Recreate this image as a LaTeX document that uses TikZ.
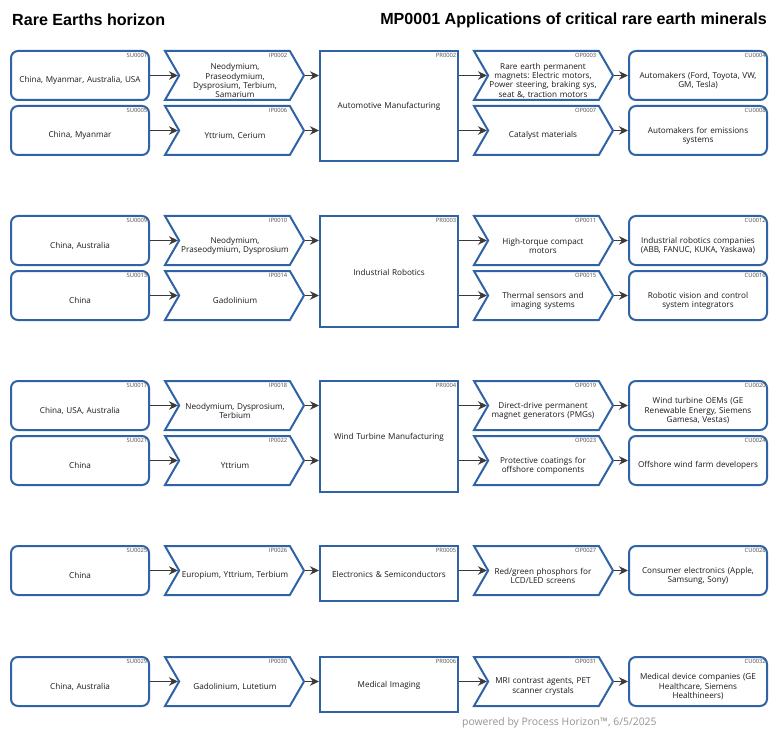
\documentclass[tikz,border=0pt]{standalone}
\usepackage{fontspec}
\setmainfont{Open Sans}
\newfontfamily\titlefont{Liberation Sans}
\usetikzlibrary{shapes.symbols,arrows.meta}
\definecolor{edgeblue}{HTML}{2F63A6}
\definecolor{flowgrey}{HTML}{3A3A3A}
\frenchspacing
\tikzset{
  x=1pt,y=-1pt,
  roundbox/.style={draw=edgeblue,line width=2pt,rounded corners=7pt,minimum width=138pt,minimum height=49pt,inner sep=0pt,fill=white},
  chev/.style={draw=edgeblue,line width=2pt,signal,signal from=west,signal to=east,signal pointer angle=120,minimum width=139pt,minimum height=49pt,inner sep=0pt,fill=white},
  procbox/.style={draw=edgeblue,line width=2pt,minimum width=138pt,inner sep=0pt,fill=white},
  itemtext/.style={font=\fontsize{8.15}{9.3}\selectfont,text=black!90,align=center,inner sep=0pt},
  codetext/.style={font=\fontsize{5.8}{6.5}\selectfont,text=black!70,anchor=north east,inner sep=0pt},
  flow/.style={draw=flowgrey,line width=1.6pt,-{Stealth[length=9pt,width=8.5pt]}},
  headtext/.style={font=\titlefont\bfseries\fontsize{16.1}{18}\selectfont,inner sep=0pt},
}
% #1 name, #2 top y, #3 code, #4 text
\newcommand{\supplybox}[4]{%
  \node[roundbox] (#1) at (80,#2+24.5) {};
  \node[itemtext,text width=132pt] (#1t) at (80,#2+29.7) {#4};
  \node[codetext] (#1c) at (147.5,#2+2.5) {#3};}
\newcommand{\inputbox}[4]{%
  \node[chev] (#1) at (234.5,#2+24.5) {};
  \node[itemtext,text width=125pt] (#1t) at (235,#2+29.7) {#4};
  \node[codetext] (#1c) at (287.5,#2+2.5) {#3};}
\newcommand{\outputbox}[4]{%
  \node[chev] (#1) at (543.5,#2+24.5) {};
  \node[itemtext,text width=125pt] (#1t) at (543,#2+29.7) {#4};
  \node[codetext] (#1c) at (596.5,#2+2.5) {#3};}
\newcommand{\custbox}[4]{%
  \node[roundbox] (#1) at (698,#2+24.5) {};
  \node[itemtext,text width=132pt] (#1t) at (698,#2+29.7) {#4};
  \node[codetext] (#1c) at (766,#2+2.5) {#3};}
% #1 name, #2 top, #3 height, #4 code, #5 text
\newcommand{\procnode}[5]{%
  \node[procbox,minimum height=#3pt] (#1) at (389,#2+#3/2) {};
  \node[itemtext,text width=130pt] (#1t) at (389,#2+#3/2+0.7) {#5};
  \node[codetext] (#1c) at (456.5,#2+2.5) {#4};}
% #1 su, #2 ip, #3 pr, #4 op, #5 cu
\newcommand{\flowrow}[5]{%
  \draw[flow] (#1.east) -- (#2.west);
  \draw[flow] (#2.east) -- (#2.east -| #3.west);
  \draw[flow] (#4.west -| #3.east) -- (#4.west);
  \draw[flow] (#4.east) -- (#5.west);}
\begin{document}
\begin{tikzpicture}
\path[use as bounding box,fill=white] (0,0) rectangle (780,733);
\node[headtext,anchor=west] (titleL) at (12,20) {Rare Earths horizon};
\node[headtext,anchor=east] (titleR) at (767,20) {MP0001 Applications of critical rare earth minerals};

\procnode{pa}{51}{110}{PR0002}{Automotive Manufacturing}
\supplybox{s1}{51}{SU0001}{China, Myanmar, Australia, USA}
\inputbox{i2}{51}{IP0002}{Neodymium,\\Praseodymium,\\Dysprosium, Terbium,\\Samarium}
\outputbox{o3}{51}{OP0003}{Rare earth permanent\\magnets: Electric motors,\\Power steering, braking sys,\\seat \&, traction motors}
\custbox{c4}{51}{CU0004}{Automakers (Ford, Toyota, VW,\\GM, Tesla)}
\supplybox{s5}{106}{SU0005}{China, Myanmar}
\inputbox{i6}{106}{IP0006}{Yttrium, Cerium}
\outputbox{o7}{106}{OP0007}{Catalyst materials}
\custbox{c8}{106}{CU0008}{Automakers for emissions\\systems}
\flowrow{s1}{i2}{pa}{o3}{c4}
\flowrow{s5}{i6}{pa}{o7}{c8}

\procnode{pb}{216}{111}{PR0003}{Industrial Robotics}
\supplybox{s9}{216}{SU0009}{China, Australia}
\inputbox{i10}{216}{IP0010}{Neodymium,\\Praseodymium, Dysprosium}
\outputbox{o11}{216}{OP0011}{High-torque compact\\motors}
\custbox{c12}{216}{CU0012}{Industrial robotics companies\\(ABB, FANUC, KUKA, Yaskawa)}
\supplybox{s13}{271}{SU0013}{China}
\inputbox{i14}{271}{IP0014}{Gadolinium}
\outputbox{o15}{271}{OP0015}{Thermal sensors and\\imaging systems}
\custbox{c16}{271}{CU0016}{Robotic vision and control\\system integrators}
\flowrow{s9}{i10}{pb}{o11}{c12}
\flowrow{s13}{i14}{pb}{o15}{c16}

\procnode{pc}{381}{111}{PR0004}{Wind Turbine Manufacturing}
\supplybox{s17}{381}{SU0017}{China, USA, Australia}
\inputbox{i18}{381}{IP0018}{Neodymium, Dysprosium,\\Terbium}
\outputbox{o19}{381}{OP0019}{Direct-drive permanent\\magnet generators (PMGs)}
\custbox{c20}{381}{CU0020}{Wind turbine OEMs (GE\\Renewable Energy, Siemens\\Gamesa, Vestas)}
\supplybox{s21}{436}{SU0021}{China}
\inputbox{i22}{436}{IP0022}{Yttrium}
\outputbox{o23}{436}{OP0023}{Protective coatings for\\offshore components}
\custbox{c24}{436}{CU0024}{Offshore wind farm developers}
\flowrow{s17}{i18}{pc}{o19}{c20}
\flowrow{s21}{i22}{pc}{o23}{c24}

\procnode{pd}{546}{55}{PR0005}{Electronics \& Semiconductors}
\supplybox{s25}{546}{SU0025}{China}
\inputbox{i26}{546}{IP0026}{Europium, Yttrium, Terbium}
\outputbox{o27}{546}{OP0027}{Red/green phosphors for\\LCD/LED screens}
\custbox{c28}{546}{CU0028}{Consumer electronics (Apple,\\Samsung, Sony)}
\flowrow{s25}{i26}{pd}{o27}{c28}

\procnode{pe}{657}{55}{PR0006}{Medical Imaging}
\supplybox{s29}{657}{SU0029}{China, Australia}
\inputbox{i30}{657}{IP0030}{Gadolinium, Lutetium}
\outputbox{o31}{657}{OP0031}{MRI contrast agents, PET\\scanner crystals}
\custbox{c32}{657}{CU0032}{Medical device companies (GE\\Healthcare, Siemens\\Healthineers)}
\flowrow{s29}{i30}{pe}{o31}{c32}

\node[font=\fontsize{10.4}{12}\selectfont,text=black!42,anchor=west,inner sep=0pt] (foot) at (462,723) {powered by Process Horizon™, 6/5/2025};
\end{tikzpicture}
\end{document}
